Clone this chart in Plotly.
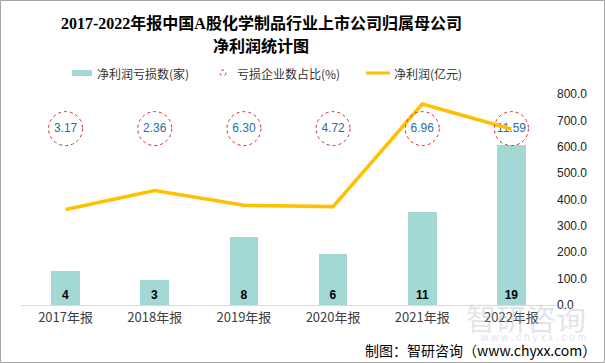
import plotly.graph_objects as go

categories = ["2017年报", "2018年报", "2019年报", "2020年报", "2021年报", "2022年报"]
loss_counts = [4, 3, 8, 6, 11, 19]
loss_ratio = [3.17, 2.36, 6.30, 4.72, 6.96, 11.59]
net_profit = [362, 434, 378, 373, 762, 667]
ratio_labels = [f"{v:.2f}" for v in loss_ratio]

W, H = 605, 363
L, R, T, B = 21, 49, 94, 58
PW, PH = W - L - R, H - T - B


def px(p):
    return (p - L) / PW


def py(p):
    return (H - B - p) / PH


fig = go.Figure()

fig.add_trace(go.Bar(
    x=categories, y=loss_counts, name="净利润亏损数(家)",
    marker=dict(color="#A3D8D4", line=dict(width=0)), width=0.32,
    text=[str(v) for v in loss_counts], textposition="inside",
    insidetextanchor="start",
    textfont=dict(family="Liberation Sans, Arial", size=12, color="#000000", weight="bold"),
    yaxis="y", showlegend=False,
))

fig.add_trace(go.Scatter(
    x=categories, y=net_profit, name="净利润(亿元)", mode="lines",
    line=dict(color="#FFC000", width=3.5), yaxis="y2", showlegend=False,
))

circle_level = 20.9
fig.add_trace(go.Scatter(
    x=categories, y=[circle_level] * len(categories), mode="text",
    text=ratio_labels, textposition="middle center",
    textfont=dict(family="Liberation Sans, Arial", size=12, color="#1F6FA8"),
    yaxis="y", showlegend=False, name="亏损企业数占比(%)",
))

shapes = []
for i in range(len(categories)):
    shapes.append(dict(
        type="circle", xref="x", yref="y", xsizemode="pixel", ysizemode="pixel",
        xanchor=i, yanchor=circle_level, x0=-17, x1=17, y0=-17, y1=17,
        line=dict(color="#D42A2A", width=1, dash="dot"), fillcolor="rgba(0,0,0,0)",
        layer="above",
    ))

# legend
shapes.append(dict(type="rect", xref="paper", yref="paper",
                   x0=px(72), x1=px(92), y0=py(76), y1=py(70),
                   fillcolor="#A3D8D4", line=dict(width=0)))
shapes.append(dict(type="circle", xref="paper", yref="paper",
                   x0=px(220), x1=px(226), y0=py(76), y1=py(70),
                   line=dict(color="#D42A2A", width=1, dash="dot")))
shapes.append(dict(type="line", xref="paper", yref="paper",
                   x0=px(366), x1=px(390), y0=py(73), y1=py(73),
                   line=dict(color="#FFC000", width=3)))
# border
shapes.append(dict(type="rect", xref="paper", yref="paper",
                   x0=px(0.5), x1=px(W - 0.5), y0=py(H - 0.5), y1=py(0.5),
                   line=dict(color="#A6A6A6", width=1), fillcolor="rgba(0,0,0,0)"))

annotations = [
    dict(text="<b>2017-2022年报中国A股化学制品行业上市公司归属母公司</b>", x=px(261), y=py(23),
         xref="paper", yref="paper", showarrow=False, xanchor="center", yanchor="middle",
         font=dict(family="Liberation Serif, Noto Sans CJK SC", size=16, color="#000000")),
    dict(text="<b>净利润统计图</b>", x=px(261), y=py(46),
         xref="paper", yref="paper", showarrow=False, xanchor="center", yanchor="middle",
         font=dict(family="Liberation Serif, Noto Sans CJK SC", size=16, color="#000000")),
    dict(text="净利润亏损数(家)", x=px(95), y=py(73), xref="paper", yref="paper",
         showarrow=False, xanchor="left", yanchor="middle",
         font=dict(family="Noto Sans CJK SC", size=12, color="#333333")),
    dict(text="亏损企业数占比(%)", x=px(235), y=py(73), xref="paper", yref="paper",
         showarrow=False, xanchor="left", yanchor="middle",
         font=dict(family="Noto Sans CJK SC", size=12, color="#333333")),
    dict(text="净利润(亿元)", x=px(392), y=py(73), xref="paper", yref="paper",
         showarrow=False, xanchor="left", yanchor="middle",
         font=dict(family="Noto Sans CJK SC", size=12, color="#333333")),
    # watermark
    dict(text="智研咨询", x=px(588), y=py(317), xref="paper", yref="paper",
         showarrow=False, xanchor="right", yanchor="middle",
         font=dict(family="Noto Sans CJK SC", size=30, color="rgba(170,180,195,0.35)")),
    dict(text="w w w . c h y x x . c o m", x=px(588), y=py(337), xref="paper", yref="paper",
         showarrow=False, xanchor="right", yanchor="middle",
         font=dict(family="Liberation Sans", size=10, color="rgba(170,180,195,0.4)")),
    dict(text="制图：智研咨询（www.chyxx.com）", x=px(598), y=py(350), xref="paper", yref="paper",
         showarrow=False, xanchor="right", yanchor="middle",
         font=dict(family="Noto Sans CJK SC", size=14, color="#000000")),
]

fig.update_layout(
    width=W, height=H, margin=dict(l=L, r=R, t=T, b=B),
    paper_bgcolor="#FFFFFF", plot_bgcolor="#FFFFFF",
    showlegend=False, bargap=0,
    xaxis=dict(type="category", showgrid=False, showline=True, linecolor="#D9D9D9",
               linewidth=1, ticks="", zeroline=False,
               tickfont=dict(family="Noto Sans CJK SC", size=13, color="#404040")),
    yaxis=dict(range=[0, 25], visible=False, showgrid=False, zeroline=False),
    yaxis2=dict(range=[0, 800], dtick=100, overlaying="y", side="right", showgrid=False,
                zeroline=False, showline=False, tickformat=".1f", ticks="",
                tickfont=dict(family="Liberation Sans, Arial", size=12, color="#222222")),
    shapes=shapes, annotations=annotations,
)

fig.write_html("out.html", config={"displayModeBar": False},
               post_script="document.body.style.margin='0';document.body.style.overflow='hidden';")
